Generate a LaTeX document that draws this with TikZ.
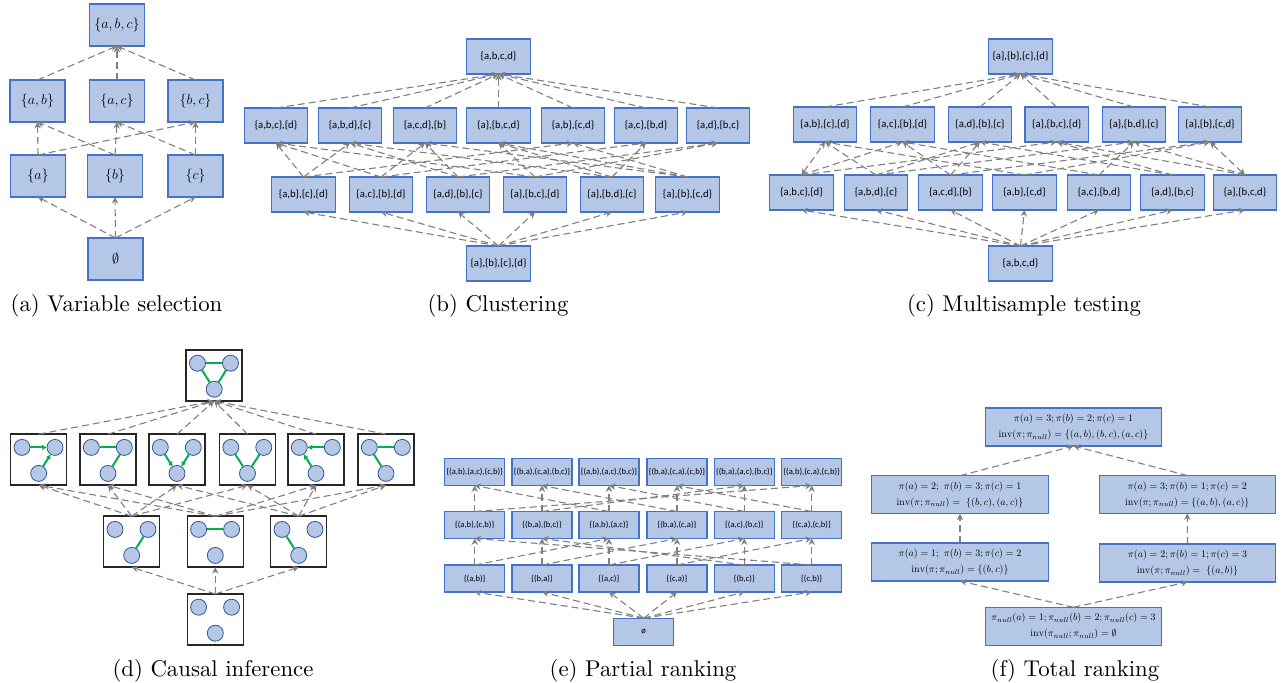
\documentclass[tikz,border=0pt]{standalone}
\usepackage{fix-cm}
\usepackage{amsmath}
\usepackage{amsfonts}
\usepackage{fontspec}
\newfontfamily\carlitofont{Carlito}
\usepackage{tikz}
\usetikzlibrary{arrows.meta,shapes,arrows}
\definecolor{boxfill}{HTML}{B4C7E7}
\definecolor{boxline}{HTML}{4472C4}
\definecolor{dotline}{HTML}{2F5597}
\definecolor{linkgreen}{HTML}{00B050}
\definecolor{dashgray}{HTML}{7F7F7F}
\tikzset{
  latticebox/.style 2 args={rectangle,draw=boxline,fill=boxfill,line width=1.1pt,inner sep=0pt,outer sep=0pt,
    minimum width=#1*1pt,minimum height=#2*1pt,align=center},
  framebox/.style={rectangle,draw=black!85,fill=white,line width=1.5pt,inner sep=0pt,outer sep=0pt,
    minimum width=56pt,minimum height=51pt},
  dot/.style={circle,draw=dotline,fill=boxfill,line width=.8pt,inner sep=0pt,minimum size=16pt},
  capt/.style={inner sep=0pt,font=\fontsize{10}{12}\selectfont,scale=2.28},
  cover/.style={>={Stealth[dashgray,length=6.4pt,width=6.4pt]},every edge/.style={draw=dashgray,line width=1.1pt,dash pattern=on 7pt off 4pt}},
  link/.style={draw=linkgreen,line width=2pt},
  linkdir/.style={link,->,>={Stealth[linkgreen,length=5pt,width=5.4pt]}}
}
% frame with three vertices: name-a top left, name-b top right, name-c bottom
\newcommand{\graphbox}[3]{
  \node[framebox] (#1) at (#2,#3) {};
  \node[dot] (#1-a) at (#2-16.7,#3-12.3) {};
  \node[dot] (#1-b) at (#2+16.3,#3-12.3) {};
  \node[dot] (#1-c) at (#2,#3+13.7) {};
}

\begin{document}
\begin{tikzpicture}[x=1pt,y=-1pt]
    \useasboundingbox (0,0) rectangle (1283,683);

    % (a)
    \begin{scope}[every node/.style={latticebox={55}{42},font=\fontsize{14}{16}\selectfont}]
      \node (sabc) at (117,25)    {$\{a,b,c\}$};
      \node (sab) at (37.5,101)   {$\{a,b\}$};
      \node (sac) at (117,101)    {$\{a,c\}$};
      \node (sbc) at (195.5,101)  {$\{b,c\}$};
      \node (sa) at (38,176)      {$\{a\}$};
      \node (sb) at (115,176)     {$\{b\}$};
      \node (sc) at (195.5,176)   {$\{c\}$};
      \node (snone) at (115.5,259) {$\emptyset$};
    \end{scope}
    \begin{scope}[cover]
      \path[->] (sab.north) edge (sabc.south);
      \path[->] (sac.north) edge (sabc.south);
      \path[->] (sbc.north) edge (sabc.south);
      \path[->] (sa.north) edge (sab.south);
      \path[->] (sa.north) edge (sbc.south);
      \path[->] (sb.north) edge (sab.south);
      \path[->] (sb.north) edge (sac.south);
      \path[->] (sc.north) edge (sac.south);
      \path[->] (sc.north) edge (sbc.south);
      \path[->] (snone.north) edge (sa.south);
      \path[->] (snone.north) edge (sb.south);
      \path[->] (snone.north) edge (sc.south);
    \end{scope}
    \node[capt] (capa) at (116.5,306) {(a) Variable selection};

    % (b)
    \begin{scope}[every node/.style={latticebox={63.5}{35},font=\carlitofont\fontsize{10.7}{12}\selectfont}]
      \node (ctop) at (498.5,56.5) {\{a,b,c,d\}};
      \node (cu1) at (276,125.5)   {\{a,b,c\},\{d\}};
      \node (cu2) at (350,125.5)   {\{a,b,d\},\{c\}};
      \node (cu3) at (425,125.5)   {\{a,c,d\},\{b\}};
      \node (cu4) at (498.5,125.5) {\{a\},\{b,c,d\}};
      \node (cu5) at (573,125.5)   {\{a,b\},\{c,d\}};
      \node (cu6) at (646,125.5)   {\{a,c\},\{b,d\}};
      \node (cu7) at (718,125.5)   {\{a,d\},\{b,c\}};
      \node (cl1) at (303.5,194.5) {\{a,b\},\{c\},\{d\}};
      \node (cl2) at (381,194.5)   {\{a,c\},\{b\},\{d\}};
      \node (cl3) at (458,194.5)   {\{a,d\},\{b\},\{c\}};
      \node (cl4) at (535,194.5)   {\{a\},\{b,c\},\{d\}};
      \node (cl5) at (612,194.5)   {\{a\},\{b,d\},\{c\}};
      \node (cl6) at (687.5,194.5) {\{a\},\{b\},\{c,d\}};
      \node (cbot) at (498.5,263.5) {\{a\},\{b\},\{c\},\{d\}};
    \end{scope}
    \begin{scope}[cover]
      \path[->] (cu1.north) edge (ctop.south);
      \path[->] (cu2.north) edge (ctop.south);
      \path[->] (cu3.north) edge (ctop.south);
      \path[->] (cu4.north) edge (ctop.south);
      \path[->] (cu5.north) edge (ctop.south);
      \path[->] (cu6.north) edge (ctop.south);
      \path[->] (cu7.north) edge (ctop.south);
      \path[->] (cl1.north) edge (cu1.south) (cl1.north) edge (cu2.south) (cl1.north) edge (cu5.south);
      \path[->] (cl2.north) edge (cu1.south) (cl2.north) edge (cu3.south) (cl2.north) edge (cu6.south);
      \path[->] (cl3.north) edge (cu2.south) (cl3.north) edge (cu3.south) (cl3.north) edge (cu7.south);
      \path[->] (cl4.north) edge (cu1.south) (cl4.north) edge (cu4.south) (cl4.north) edge (cu7.south);
      \path[->] (cl5.north) edge (cu2.south) (cl5.north) edge (cu4.south) (cl5.north) edge (cu6.south);
      \path[->] (cl6.north) edge (cu3.south) (cl6.north) edge (cu4.south) (cl6.north) edge (cu5.south);
      \path[->] (cbot.north) edge (cl1.south);
      \path[->] (cbot.north) edge (cl2.south);
      \path[->] (cbot.north) edge (cl3.south);
      \path[->] (cbot.north) edge (cl4.south);
      \path[->] (cbot.north) edge (cl5.south);
      \path[->] (cbot.north) edge (cl6.south);
    \end{scope}
    \node[capt] (capb) at (498,306) {(b) Clustering};

    % (c)
    \begin{scope}[every node/.style={latticebox={63.5}{35},font=\carlitofont\fontsize{10.7}{12}\selectfont}]
      \node (mtop) at (1020.5,56.5) {\{a\},\{b\},\{c\},\{d\}};
      \node (mu1) at (825,124.5)    {\{a,b\},\{c\},\{d\}};
      \node (mu2) at (902.5,124.5)  {\{a,c\},\{b\},\{d\}};
      \node (mu3) at (980,124.5)    {\{a,d\},\{b\},\{c\}};
      \node (mu4) at (1056.7,124.5) {\{a\},\{b,c\},\{d\}};
      \node (mu5) at (1134,124.5)   {\{a\},\{b,d\},\{c\}};
      \node (mu6) at (1210,124.5)   {\{a\},\{b\},\{c,d\}};
      \node (ml1) at (801.5,192.5)  {\{a,b,c\},\{d\}};
      \node (ml2) at (876,192.5)    {\{a,b,d\},\{c\}};
      \node (ml3) at (950.5,192.5)  {\{a,c,d\},\{b\}};
      \node (ml4) at (1024.5,192.5) {\{a,b\},\{c,d\}};
      \node (ml5) at (1099,192.5)   {\{a,c\},\{b,d\}};
      \node (ml6) at (1172.5,192.5) {\{a,d\},\{b,c\}};
      \node (ml7) at (1245,192.5)   {\{a\},\{b,c,d\}};
      \node (mbot) at (1020.5,263.5) {\{a,b,c,d\}};
    \end{scope}
    \begin{scope}[cover]
      \path[->] (mu1.north) edge (mtop.south);
      \path[->] (mu2.north) edge (mtop.south);
      \path[->] (mu3.north) edge (mtop.south);
      \path[->] (mu4.north) edge (mtop.south);
      \path[->] (mu5.north) edge (mtop.south);
      \path[->] (mu6.north) edge (mtop.south);
      \path[<->] (ml1.north) edge (mu1.south);
      \path[->] (ml1.north) edge (mu2.south) (ml1.north) edge (mu4.south);
      \path[->] (ml2.north) edge (mu1.south) (ml2.north) edge (mu3.south) (ml2.north) edge (mu5.south);
      \path[->] (ml3.north) edge (mu2.south) (ml3.north) edge (mu3.south) (ml3.north) edge (mu6.south);
      \path[->] (ml4.north) edge (mu1.south) (ml4.north) edge (mu6.south);
      \path[->] (ml5.north) edge (mu2.south) (ml5.north) edge (mu5.south);
      \path[->] (ml6.north) edge (mu3.south) (ml6.north) edge (mu4.south);
      \path[->] (ml7.north) edge (mu4.south) (ml7.north) edge (mu5.south);
      \path[<->] (ml7.north) edge (mu6.south);
      \path[->] (mbot.north) edge (ml1.south);
      \path[->] (mbot.north) edge (ml2.south);
      \path[->] (mbot.north) edge (ml3.south);
      \path[->] (mbot.north) edge (ml4.south);
      \path[->] (mbot.north) edge (ml5.south);
      \path[->] (mbot.north) edge (ml6.south);
      \path[->] (mbot.north) edge (ml7.south);
    \end{scope}
    \node[capt] (capc) at (1024,306) {(c) Multisample testing};

    % (d)
    \graphbox{gtop}{214.2}{375.5}
    \graphbox{gu1}{38.7}{459.7}
    \graphbox{gu2}{108}{459.7}
    \graphbox{gu3}{177}{459.7}
    \graphbox{gu4}{247.5}{459.7}
    \graphbox{gu5}{316}{459.7}
    \graphbox{gu6}{386}{459.7}
    \graphbox{gl1}{131.7}{541.7}
    \graphbox{gl2}{215.3}{541.7}
    \graphbox{gl3}{298.7}{541.7}
    \graphbox{gbot}{215.3}{619.5}
    \draw[link] (gtop-a) -- (gtop-b);
    \draw[link] (gtop-a) -- (gtop-c);
    \draw[link] (gtop-b) -- (gtop-c);
    \draw[linkdir] (gu1-a) -- (gu1-b);
    \draw[linkdir] (gu1-c) -- (gu1-b);
    \draw[link] (gu2-a) -- (gu2-b);
    \draw[link] (gu2-c) -- (gu2-b);
    \draw[linkdir] (gu3-a) -- (gu3-c);
    \draw[linkdir] (gu3-b) -- (gu3-c);
    \draw[link] (gu4-a) -- (gu4-c);
    \draw[link] (gu4-b) -- (gu4-c);
    \draw[linkdir] (gu5-b) -- (gu5-a);
    \draw[linkdir] (gu5-c) -- (gu5-a);
    \draw[link] (gu6-a) -- (gu6-b);
    \draw[link] (gu6-a) -- (gu6-c);
    \draw[link] (gl1-b) -- (gl1-c);
    \draw[link] (gl2-a) -- (gl2-b);
    \draw[link] (gl3-a) -- (gl3-c);
    \begin{scope}[cover]
      \path[->] (gu1.north) edge (gtop.south);
      \path[->] (gu2.north) edge (gtop.south);
      \path[->] (gu3.north) edge (gtop.south);
      \path[->] (gu4.north) edge (gtop.south);
      \path[->] (gu5.north) edge (gtop.south);
      \path[->] (gu6.north) edge (gtop.south);
      \path[->] (gl1.north) edge (gu1.south) (gl1.north) edge (gu2.south) (gl1.north) edge (gu3.south) (gl1.north) edge (gu4.south);
      \path[->] (gl2.north) edge (gu1.south) (gl2.north) edge (gu2.south) (gl2.north) edge (gu5.south) (gl2.north) edge (gu6.south);
      \path[->] (gl3.north) edge (gu3.south) (gl3.north) edge (gu4.south) (gl3.north) edge (gu5.south) (gl3.north) edge (gu6.south);
      \path[->] (gbot.north) edge (gl1.south);
      \path[->] (gbot.north) edge (gl2.south);
      \path[->] (gbot.north) edge (gl3.south);
    \end{scope}
    \node[capt] (capd) at (213,671) {(d) Causal inference};

    % (e)
    \begin{scope}[every node/.style={latticebox={60}{27},font=\carlitofont\fontsize{8.6}{10}\selectfont}]
      \node (pt1) at (474.7,472) {\{(a,b),(a,c),(c,b)\}};
      \node (pt2) at (542,472)   {\{(b,a),(c,a),(b,c)\}};
      \node (pt3) at (609,472)   {\{(a,b),(a,c),(b,c)\}};
      \node (pt4) at (677,472)   {\{(b,a),(c,a),(c,b)\}};
      \node (pt5) at (744.3,472) {\{(b,a),(a,c),(b,c)\}};
      \node (pt6) at (811.7,472) {\{(a,b),(c,a),(c,b)\}};
      \node (pm1) at (474.7,525) {\{(a,b),(c,b)\}};
      \node (pm2) at (542,525)   {\{(b,a),(b,c)\}};
      \node (pm3) at (609,525)   {\{(a,b),(a,c)\}};
      \node (pm4) at (677,525)   {\{(b,a),(c,a)\}};
      \node (pm5) at (744.3,525) {\{(a,c),(b,c)\}};
      \node (pm6) at (811.7,525) {\{(c,a),(c,b)\}};
      \node (pl1) at (474.7,578.5) {\{(a,b)\}};
      \node (pl2) at (542,578.5)   {\{(b,a)\}};
      \node (pl3) at (609,578.5)   {\{(a,c)\}};
      \node (pl4) at (677,578.5)   {\{(c,a)\}};
      \node (pl5) at (744.3,578.5) {\{(b,c)\}};
      \node (pl6) at (811.7,578.5) {\{(c,b)\}};
      \node (pbot) at (643.7,631.7) {ø};
    \end{scope}
    \begin{scope}[cover]
      \path[->] (pm1.north) edge (pt1.south) (pm1.north) edge (pt6.south);
      \path[->] (pm2.north) edge (pt2.south) (pm2.north) edge (pt5.south);
      \path[->] (pm3.north) edge (pt3.south) (pm3.north) edge (pt1.south);
      \path[->] (pm4.north) edge (pt4.south) (pm4.north) edge (pt2.south);
      \path[->] (pm5.north) edge (pt5.south) (pm5.north) edge (pt3.south);
      \path[->] (pm6.north) edge (pt6.south) (pm6.north) edge (pt4.south);
      \path[->] (pl1.north) edge (pm1.south) (pl1.north) edge (pm3.south);
      \path[->] (pl2.north) edge (pm2.south) (pl2.north) edge (pm4.south);
      \path[->] (pl3.north) edge (pm3.south) (pl3.north) edge (pm5.south);
      \path[->] (pl4.north) edge (pm4.south) (pl4.north) edge (pm6.south);
      \path[->] (pl5.north) edge (pm5.south) (pl5.north) edge (pm2.south);
      \path[->] (pl6.north) edge (pm6.south) (pl6.north) edge (pm1.south);
      \path[->] (pbot.north) edge (pl1.south);
      \path[->] (pbot.north) edge (pl2.south);
      \path[->] (pbot.north) edge (pl3.south);
      \path[->] (pbot.north) edge (pl4.south);
      \path[->] (pbot.north) edge (pl5.south);
      \path[->] (pbot.north) edge (pl6.south);
    \end{scope}
    \node[capt] (cape) at (643,671) {(e) Partial ranking};

    % (f)
    \begin{scope}[every node/.style={latticebox={176.5}{38},font=\fontsize{10}{16}\selectfont}]
      \node (ttop) at (1073.5,427) {$\pi(a)=3;\pi(b)=2;\pi(c)=1$\\$\mathrm{inv}(\pi;\pi_{null})=\{(a,b),(b,c),(a,c)\}$};
      \node (tul) at (960,494.7)    {$\pi(a)=2;\ \pi(b)=3;\pi(c)=1$\\$\mathrm{inv}(\pi;\pi_{null})=\ \{(b,c),(a,c)\}$};
      \node (tur) at (1187.3,494.5) {$\pi(a)=3;\pi(b)=1;\pi(c)=2$\\$\mathrm{inv}(\pi;\pi_{null})=\{(a,b),(a,c)\}$};
      \node (tll) at (960,562)      {$\pi(a)=1;\ \pi(b)=3;\pi(c)=2$\\$\mathrm{inv}(\pi;\pi_{null})=\{(b,c)\}$};
      \node (tlr) at (1187.5,563)   {$\pi(a)=2;\pi(b)=1;\pi(c)=3$\\$\mathrm{inv}(\pi;\pi_{null})=\ \{(a,b)\}$};
      \node (tbot) at (1073.5,626.3) {$\pi_{null}(a)=1;\pi_{null}(b)=2;\pi_{null}(c)=3$\\$\mathrm{inv}(\pi_{null};\pi_{null})=\emptyset$};
    \end{scope}
    \begin{scope}[cover]
      \path[->] (tul.north) edge (ttop.south);
      \path[->] (tur.north) edge (ttop.south);
      \path[->] (tll.north) edge (tul.south);
      \path[->] (tlr.north) edge (tur.south);
      \path[->] (tbot.north) edge (tll.south);
      \path[->] (tbot.north) edge (tlr.south);
    \end{scope}
    \node[capt] (capf) at (1075,671) {(f) Total ranking};
  \end{tikzpicture}
\end{document}
